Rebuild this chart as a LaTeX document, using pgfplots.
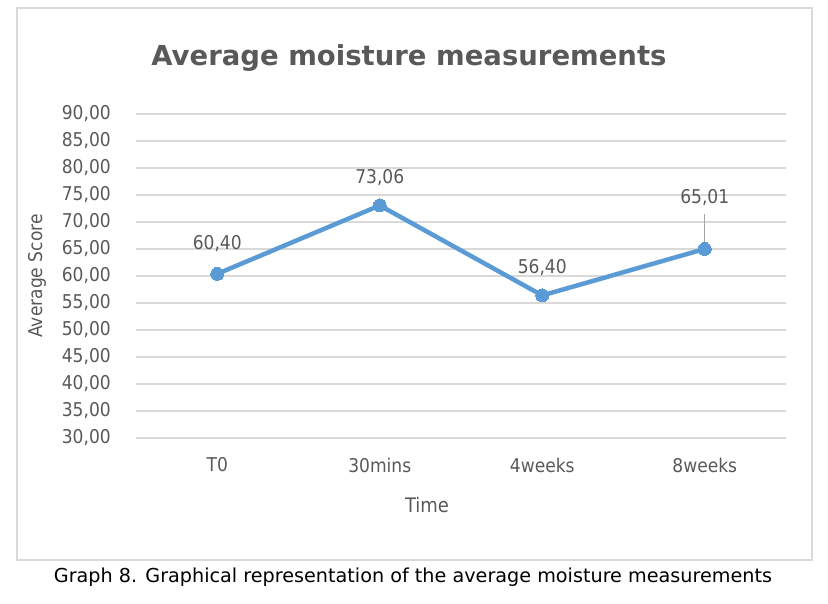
\documentclass[border=0pt]{standalone}
\usepackage{pgfplots}
\pgfplotsset{compat=1.18}
\usepackage{pgfplotstable}
\usepackage{fontspec}
\setmainfont{DejaVu Sans Condensed}
\newfontfamily\wide{DejaVu Sans}
\definecolor{txt}{HTML}{595959}
\definecolor{gridc}{HTML}{D9D9D9}
\definecolor{line}{HTML}{5B9BD5}
\definecolor{lead}{HTML}{A6A6A6}
\pgfplotstableread{
x y dy
0 60.40 30
1 73.06 28
2 56.40 28
3 65.01 51
}\datatab
\begin{document}
\begin{tikzpicture}
\path[use as bounding box] (0,0) rectangle (828bp,604bp);
\draw[gridc, line width=1.5bp] (17bp,44bp) rectangle (812bp,596bp);
\node[text=txt, font=\wide\fontsize{27.5bp}{32bp}\selectfont\bfseries] at (409bp,546bp) {Average moisture measurements};
\node[text=txt, rotate=90, font=\fontsize{19bp}{23bp}\selectfont] at (37bp,328bp) {Average Score};
\node[text=txt, font=\fontsize{20bp}{24bp}\selectfont] at (427bp,99bp) {Time};
\node[text=black, font=\wide\fontsize{19.2bp}{22bp}\selectfont] at (413bp,27bp) {Graph 8. Graphical representation of the average moisture measurements};
\begin{axis}[
  at={(136bp,166bp)}, anchor=south west,
  width=650bp, height=324bp, scale only axis,
  xmin=-0.5, xmax=3.5, ymin=30, ymax=90,
  ytick={30,35,...,90},
  xtick={0,1,2,3}, xticklabels={T0,30mins,4weeks,8weeks},
  axis line style={draw=none},
  major tick length=0pt,
  ymajorgrids, grid style={gridc, line width=1.5bp},
  /pgf/number format/assume math mode=true,
  /pgf/number format/.cd, use comma, fixed, fixed zerofill, precision=2, 1000 sep={},
  /pgfplots/.cd,
  yticklabel style={text=txt, font=\fontsize{19bp}{23bp}\selectfont, inner sep=0pt, anchor=east, xshift=-25bp},
  xticklabel style={text=txt, font=\fontsize{19bp}{23bp}\selectfont, inner sep=0pt, anchor=center, yshift=-27bp},
  clip=false,
]
\draw[lead, line width=1.2bp] ([yshift=4bp]axis cs:3,65.01) -- ([yshift=35bp]axis cs:3,65.01);
\addplot[line, line width=4.5bp, mark=*, mark size=6.5bp, mark options={fill=line, draw=line, line width=0pt},
  nodes near coords, point meta=explicit,
  visualization depends on={\thisrow{dy} \as \dy},
  every node near coord/.append style={text=txt, font=\fontsize{19bp}{23bp}\selectfont, anchor=center, inner sep=0pt, yshift=\dy bp}]
  table[x=x, y=y, meta=y] {\datatab};
\end{axis}
\end{tikzpicture}
\end{document}
